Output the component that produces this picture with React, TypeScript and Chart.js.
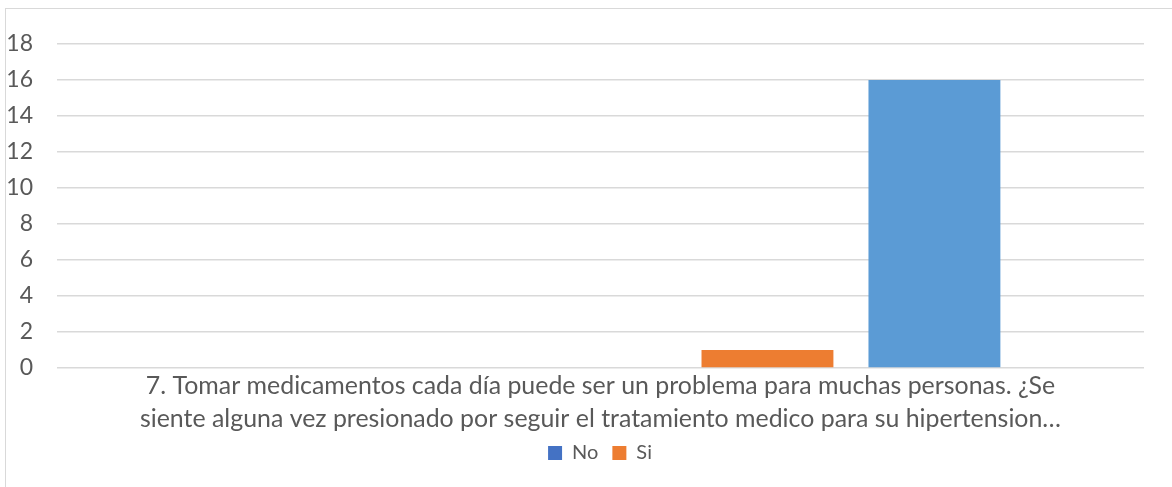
import React, { useEffect, useRef } from 'react';
import { Chart, registerables } from 'chart.js';

Chart.register(...registerables);

// ---- data ----
const categories: string[][] = [[
  '7. Tomar medicamentos cada día puede ser un problema para muchas personas. ¿Se',
  'siente alguna vez presionado por seguir el tratamiento medico para su hipertension…',
]];
const seriesNames: string[] = ['No', 'Si', '', '', ''];
const seriesColors: string[] = ['#4472C4', '#ED7D31', '#A5A5A5', '#ED7D31', '#5B9BD5'];
const series1: number[] = [0];
const series2: number[] = [0];
const series3: number[] = [0];
const series4: number[] = [1];
const series5: number[] = [16];
const yMin = 0;
const yMax = 18;
const yStep = 2;
const legendCount = 2;

const FONT = 'Lato, "Open Sans", sans-serif';
const TEXT = '#595959';
const GRID = '#d9d9d9';

// centre the legend under the plot area, like the spreadsheet does
const legendUnderPlot = {
  id: 'legendUnderPlot',
  beforeDraw(chart: any) {
    const lg = chart.legend;
    if (!lg) return;
    lg.left = chart.chartArea.left - 1;
    lg.right = chart.chartArea.right;
    lg.top = chart.chartArea.bottom + 61;
  },
};

export default function App() {
  const ref = useRef<HTMLCanvasElement | null>(null);

  useEffect(() => {
    if (!ref.current) return;
    const values = [series1, series2, series3, series4, series5];
    const chart = new Chart(ref.current, {
      type: 'bar',
      data: {
        labels: categories,
        datasets: values.map((v, i) => ({
          label: seriesNames[i],
          data: v,
          backgroundColor: seriesColors[i],
          borderWidth: 0,
          categoryPercentage: 0.768,
          barPercentage: 0.79,
        })),
      },
      options: {
        animation: false,
        responsive: false,
        maintainAspectRatio: false,
        layout: { padding: { left: 5, right: 28, top: 44, bottom: 5 } },
        plugins: {
          tooltip: { enabled: false },
          legend: {
            position: 'bottom',
            labels: {
              filter: (item: any) => item.datasetIndex < legendCount,
              boxWidth: 14,
              boxHeight: 14,
              padding: 14,
              color: TEXT,
              font: { family: FONT, size: 20 },
            },
          },
        },
        scales: {
          x: {
            grid: { display: false, drawTicks: false },
            border: { display: false },
            ticks: {
              color: TEXT,
              padding: 1,
              maxRotation: 0,
              autoSkip: false,
              font: { family: FONT, size: 24.9, lineHeight: 1.33 },
            },
            afterFit: (s: any) => { s.height = 70; },
          },
          y: {
            min: yMin,
            max: yMax,
            ticks: {
              stepSize: yStep,
              color: TEXT,
              padding: 24,
              font: { family: FONT, size: 23 },
            },
            grid: { color: GRID, lineWidth: 1.6, drawTicks: false },
            border: { display: false },
            afterFit: (s: any) => { s.width = 52; },
          },
        },
      },
      plugins: [legendUnderPlot],
    });
    return () => chart.destroy();
  }, []);

  return (
    <div style={{ position: 'absolute', left: 0, top: 0, width: 1172, height: 487, background: '#fff', overflow: 'hidden' }}>
      <div style={{ position: 'absolute', left: 5, top: 8, width: 1200, height: 520, border: '1px solid #d9d9d9' }} />
      <canvas ref={ref} width={1172} height={487} style={{ position: 'absolute', left: 0, top: 0, width: 1172, height: 487 }} />
    </div>
  );
}
